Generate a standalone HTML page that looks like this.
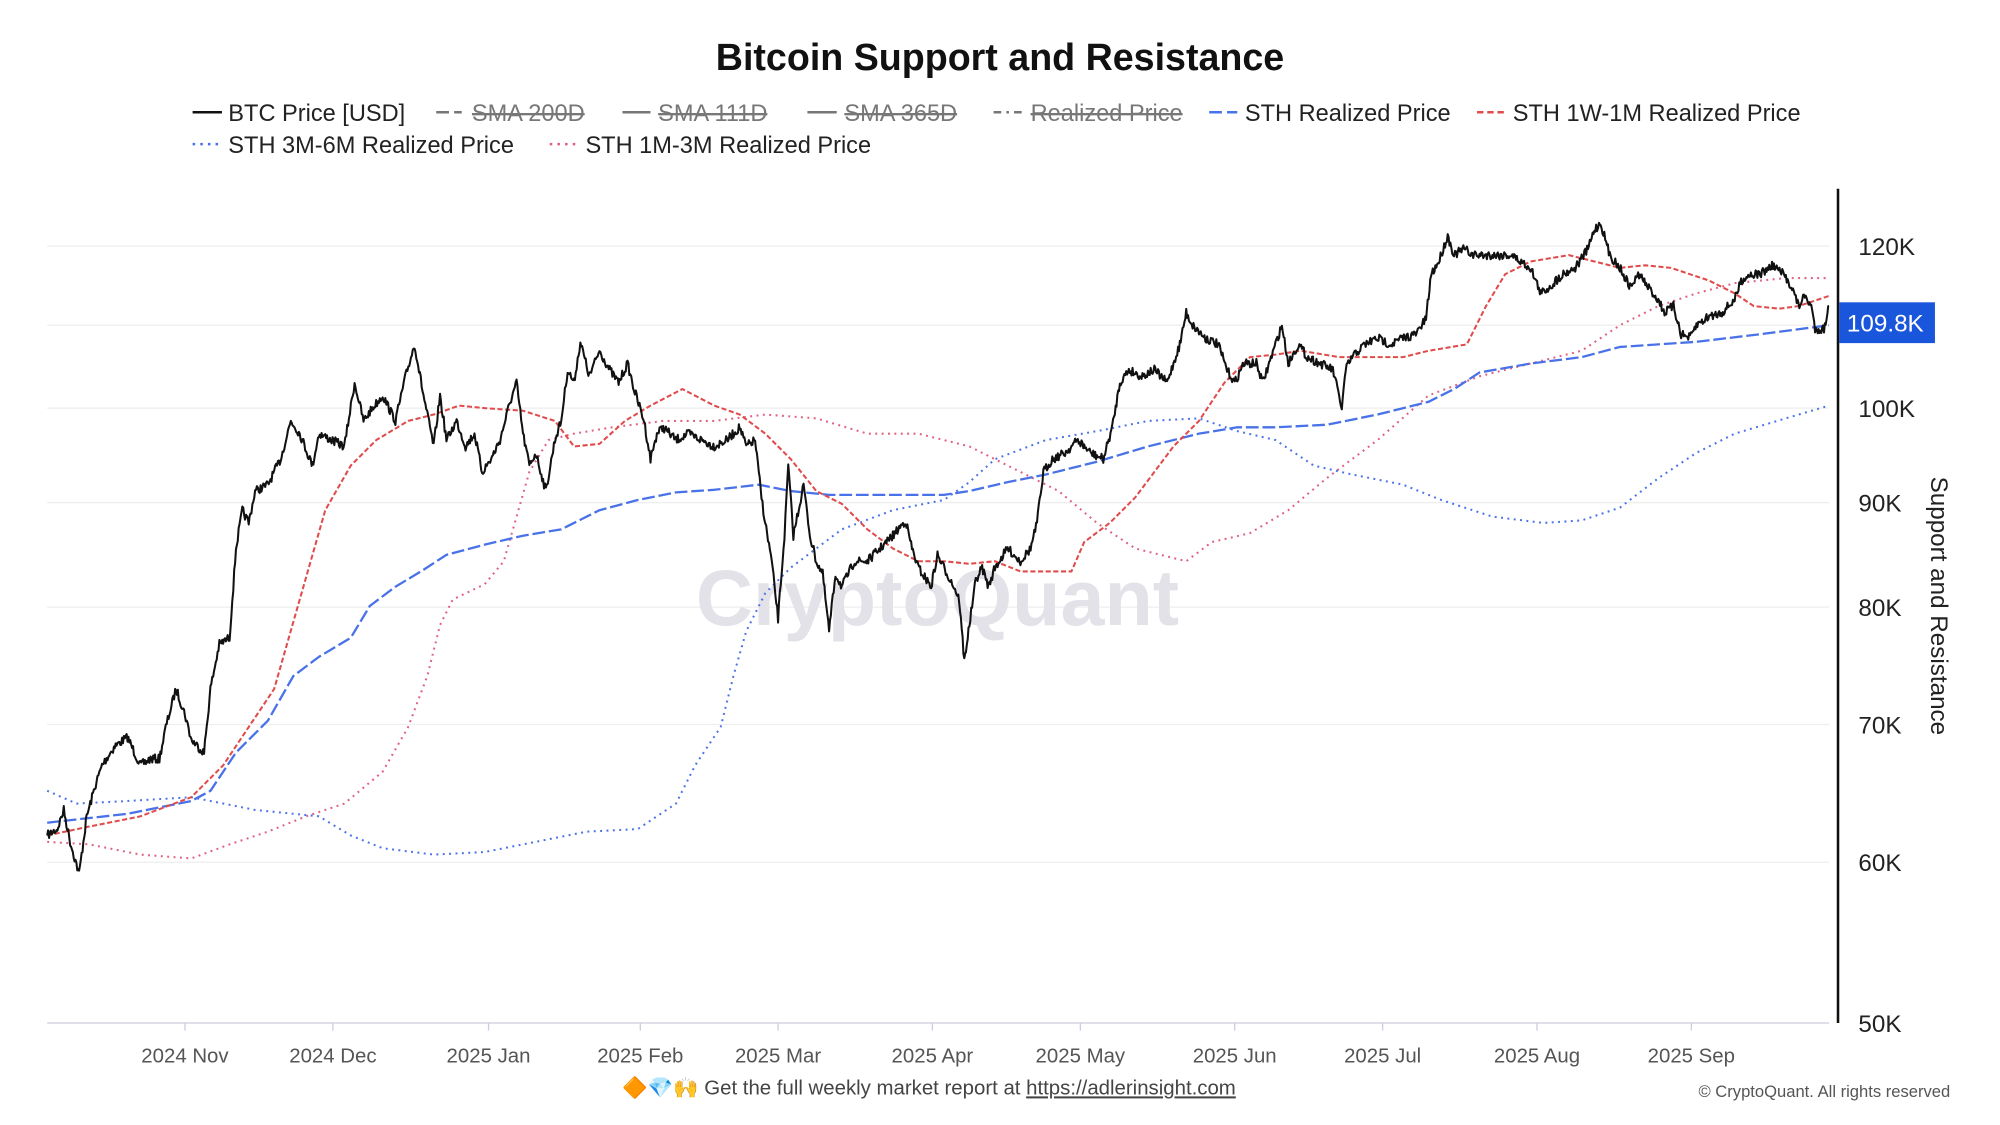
<!DOCTYPE html>
<html><head><meta charset="utf-8"><style>
html,body{margin:0;padding:0;background:#fff;}
svg{display:block;font-family:"Liberation Sans",sans-serif;}
</style></head><body>
<svg id="s" width="2000" height="1125" viewBox="0 0 1568 882" preserveAspectRatio="none" xmlns="http://www.w3.org/2000/svg">
<rect width="1568" height="882" fill="#fff"/>
<text x="784" y="55" text-anchor="middle" font-size="29.5" font-weight="bold" fill="#111">Bitcoin Support and Resistance</text>
<g font-size="18.5" fill="#222">
<line x1="151" y1="88" x2="174" y2="88" stroke="#111" stroke-width="2"/><text x="179" y="95">BTC Price [USD]</text>
<line x1="342" y1="88" x2="362" y2="88" stroke="#777" stroke-width="2" stroke-dasharray="10,4"/><text x="370" y="95" fill="#777" text-decoration="line-through">SMA 200D</text>
<line x1="488" y1="88" x2="510" y2="88" stroke="#777" stroke-width="2"/><text x="516" y="95" fill="#777" text-decoration="line-through">SMA 111D</text>
<line x1="633" y1="88" x2="656" y2="88" stroke="#777" stroke-width="2"/><text x="662" y="95" fill="#777" text-decoration="line-through">SMA 365D</text>
<line x1="779" y1="88" x2="802" y2="88" stroke="#777" stroke-width="2" stroke-dasharray="6,4,2,4"/><text x="808" y="95" fill="#777" text-decoration="line-through">Realized Price</text>
<line x1="948" y1="88" x2="970" y2="88" stroke="#4a72e8" stroke-width="2" stroke-dasharray="10,4"/><text x="976" y="95">STH Realized Price</text>
<line x1="1158" y1="88" x2="1180" y2="88" stroke="#e04b4b" stroke-width="2" stroke-dasharray="5,3"/><text x="1186" y="95">STH 1W-1M Realized Price</text>
<line x1="151" y1="113" x2="174" y2="113" stroke="#4a72e8" stroke-width="2" stroke-dasharray="2,4"/><text x="179" y="120">STH 3M-6M Realized Price</text>
<line x1="431" y1="113" x2="454" y2="113" stroke="#e06080" stroke-width="2" stroke-dasharray="2,4"/><text x="459" y="120">STH 1M-3M Realized Price</text>
</g>
<g stroke="#eee" stroke-width="1">
<line x1="37" x2="1434" y1="193" y2="193"/><line x1="37" x2="1434" y1="255" y2="255"/><line x1="37" x2="1434" y1="320" y2="320"/><line x1="37" x2="1434" y1="394" y2="394"/><line x1="37" x2="1434" y1="476" y2="476"/><line x1="37" x2="1434" y1="568" y2="568"/><line x1="37" x2="1434" y1="676" y2="676"/>
</g>
<line x1="37" x2="1434" y1="802" y2="802" stroke="#ccd" stroke-width="1"/>
<g stroke="#ccd"><line x1="145" x2="145" y1="802" y2="808"/><line x1="261" x2="261" y1="802" y2="808"/><line x1="383" x2="383" y1="802" y2="808"/><line x1="502" x2="502" y1="802" y2="808"/><line x1="610" x2="610" y1="802" y2="808"/><line x1="731" x2="731" y1="802" y2="808"/><line x1="847" x2="847" y1="802" y2="808"/><line x1="968" x2="968" y1="802" y2="808"/><line x1="1084" x2="1084" y1="802" y2="808"/><line x1="1205" x2="1205" y1="802" y2="808"/><line x1="1326" x2="1326" y1="802" y2="808"/></g>
<text x="735" y="490" text-anchor="middle" font-size="62" fill="#e2e2e8" font-weight="bold">CryptoQuant</text>
<g id="series" fill="none"></g>
<line x1="1441" x2="1441" y1="148" y2="802" stroke="#111" stroke-width="2"/>
<g font-size="19" fill="#222">
<text x="1457" y="200">120K</text><text x="1457" y="327">100K</text><text x="1457" y="401">90K</text><text x="1457" y="483">80K</text><text x="1457" y="575">70K</text><text x="1457" y="683">60K</text><text x="1457" y="809">50K</text>
</g>
<rect x="1442" y="237" width="75" height="32" fill="#1a56db"/>
<text x="1448" y="260" font-size="19" fill="#fff">109.8K</text>
<text transform="translate(1514,475) rotate(90)" text-anchor="middle" font-size="19" fill="#222">Support and Resistance</text>
<g font-size="16" fill="#555" text-anchor="middle">
<text x="145" y="833">2024 Nov</text><text x="261" y="833">2024 Dec</text><text x="383" y="833">2025 Jan</text><text x="502" y="833">2025 Feb</text><text x="610" y="833">2025 Mar</text><text x="731" y="833">2025 Apr</text><text x="847" y="833">2025 May</text><text x="968" y="833">2025 Jun</text><text x="1084" y="833">2025 Jul</text><text x="1205" y="833">2025 Aug</text><text x="1326" y="833">2025 Sep</text>
</g>
<text x="488" y="858" font-size="16" fill="#444">🔶💎🙌 Get the full weekly market report at <tspan text-decoration="underline">https://adlerinsight.com</tspan></text>
<text x="1529" y="860" font-size="13" fill="#555" text-anchor="end">© CryptoQuant. All rights reserved</text>
</svg>
<script>
var g=document.getElementById('series');
function interp(pts,step){var out=[];for(var i=0;i<pts.length-1;i++){var a=pts[i],b=pts[i+1];var n=Math.max(1,Math.round((b[0]-a[0])/step));for(var k=0;k<n;k++){var t=k/n;out.push([a[0]+(b[0]-a[0])*t,a[1]+(b[1]-a[1])*t]);}}out.push(pts[pts.length-1]);return out;}
function path(pts,stroke,w,dash){var d='M'+pts.map(function(p){return p[0].toFixed(1)+','+p[1].toFixed(1)}).join('L');var e=document.createElementNS('http://www.w3.org/2000/svg','path');e.setAttribute('d',d);e.setAttribute('stroke',stroke);e.setAttribute('stroke-width',w);if(dash)e.setAttribute('stroke-dasharray',dash);e.setAttribute('stroke-linejoin','round');g.appendChild(e);}
var seed=7;function rnd(){seed=(seed*16807)%2147483647;return seed/2147483647;}
var p1m3=[[37,660],[70,662],[110,670],[150,673],[180,662],[210,652],[240,640],[270,630],[300,605],[320,570],[335,530],[345,490],[355,470],[380,458],[395,440],[405,405],[415,370],[430,345],[450,340],[480,335],[520,330],[560,330],[600,325],[640,328],[680,340],[720,340],[760,350],[800,370],[830,385],[860,410],[890,430],[930,440],[950,425],[980,418],[1010,400],[1040,375],[1080,345],[1120,310],[1160,295],[1200,285],[1240,275],[1270,255],[1300,240],[1330,230],[1360,222],[1400,218],[1434,218]];
var b3m6=[[37,620],[60,630],[100,628],[150,625],[200,635],[250,640],[275,655],[300,665],[340,670],[380,668],[420,660],[460,652],[500,650],[530,630],[545,600],[565,570],[575,530],[585,495],[600,465],[620,445],[640,430],[660,415],[700,400],[740,392],[760,378],[780,360],[820,345],[860,338],[900,330],[940,328],[970,338],[1000,345],[1030,365],[1060,372],[1100,380],[1130,392],[1170,405],[1210,410],[1240,408],[1270,398],[1300,375],[1330,355],[1360,340],[1400,328],[1434,318]];
var sth=[[37,645],[100,638],[150,628],[165,620],[185,590],[210,565],[230,530],[250,515],[275,500],[290,475],[310,460],[330,448],[350,435],[380,427],[410,420],[440,415],[470,400],[500,392],[530,386],[560,384],[595,380],[620,385],[650,388],[700,388],[740,388],[760,385],[790,378],[820,372],[860,362],[900,350],[940,340],[970,335],[1000,335],[1040,333],[1080,325],[1120,315],[1140,305],[1160,292],[1200,285],[1240,280],[1270,272],[1300,270],[1330,268],[1380,262],[1434,255]];
var r1w=[[37,655],[70,648],[110,640],[150,625],[175,600],[195,570],[215,540],[235,470],[255,400],[275,365],[295,345],[320,330],[340,325],[360,318],[380,320],[410,322],[435,330],[450,350],[470,348],[490,330],[510,318],[535,305],[560,318],[580,325],[600,340],[620,360],[640,385],[660,395],[680,415],[700,430],[720,440],[740,440],[760,442],[780,440],[800,448],[825,448],[840,448],[850,425],[870,410],[890,390],[905,370],[920,350],[940,330],[960,300],[980,280],[1000,278],[1020,275],[1050,280],[1080,280],[1100,280],[1120,275],[1150,270],[1165,240],[1180,215],[1200,205],[1230,200],[1250,205],[1270,210],[1290,208],[1310,210],[1340,220],[1360,230],[1375,240],[1395,242],[1410,240],[1425,235],[1434,232]];
var btc=[[37,655],[45,650],[50,635],[55,660],[62,685],[68,640],[75,615],[80,600],[90,585],[100,578],[110,600],[118,595],[125,595],[130,570],[138,540],[145,560],[150,580],[160,590],[165,540],[172,505],[180,500],[185,430],[190,400],[195,410],[200,385],[210,380],[220,360],[228,330],[235,340],[245,365],[250,340],[260,345],[270,350],[278,300],[285,330],[292,320],[300,310],[310,330],[318,295],[325,270],[332,310],[340,350],[345,310],[350,345],[358,330],[365,350],[372,340],[378,370],[385,360],[392,345],[400,315],[405,300],[410,340],[415,365],[420,355],[428,385],[435,345],[440,330],[445,290],[450,300],[455,268],[462,295],[470,275],[478,290],[485,300],[492,285],[497,305],[505,330],[510,360],[515,340],[520,335],[530,345],[540,340],[550,345],[560,350],[570,345],[580,335],[585,350],[592,345],[597,390],[600,410],[605,440],[610,485],[615,420],[618,365],[622,420],[630,380],[635,420],[640,440],[645,450],[650,495],[655,450],[660,460],[670,440],[680,440],[690,430],[700,420],[710,408],[715,430],[720,445],[730,460],[735,435],[740,445],[748,460],[752,470],[756,518],[760,490],[765,455],[770,445],[775,460],[780,445],[790,430],[800,440],[808,430],[813,410],[818,370],[825,360],[835,355],[845,345],[855,355],[865,360],[872,335],[878,300],[885,290],[895,295],[905,290],[915,300],[925,270],[930,245],[935,255],[945,265],[955,270],[962,290],[968,300],[975,285],[985,285],[990,300],[1000,270],[1005,255],[1010,285],[1018,270],[1025,280],[1035,285],[1045,290],[1052,320],[1055,290],[1060,280],[1070,270],[1080,265],[1090,270],[1100,265],[1110,262],[1118,250],[1122,215],[1128,205],[1135,185],[1140,200],[1148,195],[1155,200],[1165,200],[1175,200],[1185,200],[1192,205],[1200,210],[1208,230],[1215,225],[1225,215],[1235,210],[1245,195],[1250,180],[1255,175],[1262,200],[1270,210],[1278,225],[1285,215],[1292,225],[1300,235],[1305,245],[1312,240],[1318,262],[1325,265],[1330,255],[1340,248],[1350,245],[1360,235],[1365,220],[1372,215],[1380,215],[1390,208],[1398,215],[1405,225],[1410,240],[1415,232],[1420,240],[1423,258],[1430,258],[1434,240]];
path(p1m3,'#e06080',1.6,'1.5,3.5');
path(b3m6,'#4a72e8',1.6,'1.5,3.5');
path(sth,'#4a72e8',1.8,'10,3');
path(r1w,'#e04b4b',1.6,'4,2');
var bp=interp(btc,0.7).map(function(p,i,a){if(i==0||i==a.length-1)return p;return [p[0],p[1]+(rnd()-0.5)*7];});
path(bp,'#111',1.6,null);
</script>
</body></html>
